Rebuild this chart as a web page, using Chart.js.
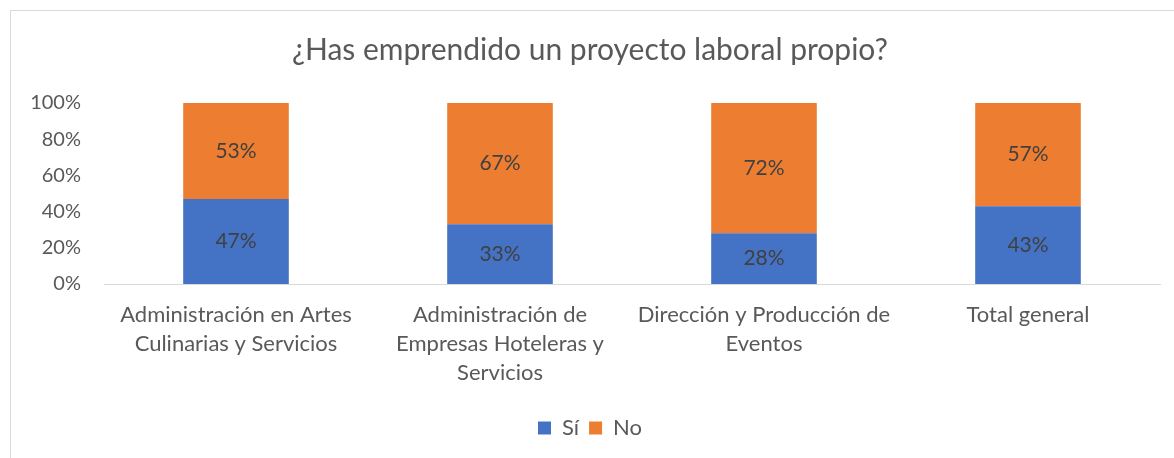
<!DOCTYPE html>
<html>
<head>
<meta charset="utf-8">
<script src="https://cdn.jsdelivr.net/npm/chart.js@4"></script>
<style>
  html, body { margin: 0; padding: 0; background: #fff; overflow: hidden; }
  .frame { position: absolute; left: 10px; top: 10px; width: 1200px; height: 500px; border: 1px solid #d9d9d9; }
  .wrap { position: absolute; left: 0; top: 0; width: 1174px; height: 458px; }
</style>
</head>
<body>
<div class="frame"></div>
<div class="wrap"><canvas id="chart"></canvas></div>
<script>
        // chart data
        const categories = [
            ['Administración en Artes', 'Culinarias y Servicios'],
            ['Administración de', 'Empresas Hoteleras y', 'Servicios'],
            ['Dirección y Producción de', 'Eventos'],
            'Total general'
        ];
        const siValues = [47, 33, 28, 43];
        const noValues = [53, 67, 72, 57];
        const yTicks = [0, 20, 40, 60, 80, 100];

        const fontFamily = 'Lato, "Open Sans", sans-serif';
        const textColor = '#595959';

        // draws the % values in the middle of each bar segment
        const barLabels = {
            id: 'barLabels',
            afterDatasetsDraw(chart) {
                const ctx = chart.ctx;
                ctx.save();
                ctx.font = '21px ' + fontFamily;
                ctx.fillStyle = '#404040';
                ctx.textAlign = 'center';
                ctx.textBaseline = 'middle';
                chart.data.datasets.forEach((ds, i) => {
                    const meta = chart.getDatasetMeta(i);
                    meta.data.forEach((bar, j) => {
                        ctx.fillText(ds.data[j] + '%', bar.x, (bar.y + bar.base) / 2);
                    });
                });
                ctx.restore();
            }
        };

        function initChart() {
            const ctx = document.getElementById('chart').getContext('2d');
            new Chart(ctx, {
                type: 'bar',
                data: {
                    labels: categories,
                    datasets: [{
                        label: 'Sí',
                        data: siValues,
                        backgroundColor: '#4472C4',
                        barPercentage: 0.4,
                        categoryPercentage: 1
                    },
                    {
                        label: 'No',
                        data: noValues,
                        backgroundColor: '#ED7D31',
                        barPercentage: 0.4,
                        categoryPercentage: 1
                    }]
                },
                options: {
                    responsive: true,
                    maintainAspectRatio: false,
                    animation: false,
                    layout: {
                        padding: { left: 20, right: 14, top: 0, bottom: 9 }
                    },
                    plugins: {
                        title: {
                            display: true,
                            text: '¿Has emprendido un proyecto laboral propio?',
                            color: textColor,
                            font: { family: fontFamily, size: 30, weight: 'normal' },
                            padding: { top: 32, bottom: 35 }
                        },
                        legend: {
                            position: 'bottom',
                            labels: {
                                color: textColor,
                                font: { family: fontFamily, size: 22 },
                                boxWidth: 13,
                                boxHeight: 13,
                                padding: 10
                            }
                        },
                        tooltip: { enabled: false }
                    },
                    scales: {
                        x: {
                            stacked: true,
                            grid: { display: false, drawTicks: false },
                            border: { display: true, color: '#d9d9d9', width: 1 },
                            ticks: {
                                color: textColor,
                                font: { family: fontFamily, size: 22, lineHeight: 1.32 },
                                padding: 16,
                                maxRotation: 0,
                                autoSkip: false
                            },
                            afterFit(scale) { scale.height = 123; }
                        },
                        y: {
                            stacked: true,
                            min: 0,
                            max: 100,
                            afterBuildTicks(scale) {
                                scale.ticks = yTicks.map(v => ({ value: v }));
                            },
                            grid: { display: false, drawTicks: false },
                            border: { display: false },
                            ticks: {
                                color: textColor,
                                font: { family: fontFamily, size: 20 },
                                padding: 23,
                                callback: v => v + '%'
                            },
                            afterFit(scale) { scale.width = 84; }
                        }
                    }
                },
                plugins: [barLabels]
            });
        }

        window.onload = function() {
            initChart();
        }
</script>
</body>
</html>
